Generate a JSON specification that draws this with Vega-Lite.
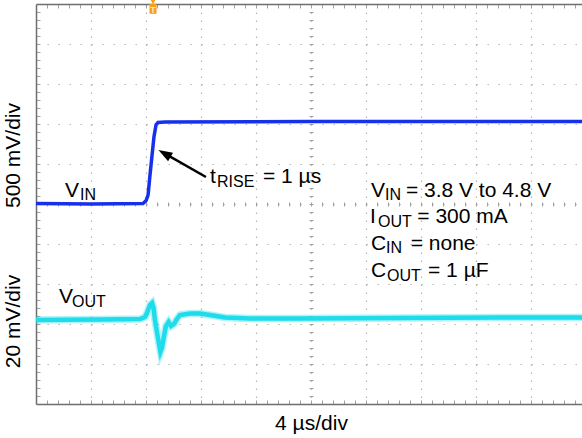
{
  "$schema": "https://vega.github.io/schema/vega-lite/v6.json",
  "width": 546,
  "height": 400,
  "autosize": {"type": "none"},
  "padding": {"left": 36, "top": 4, "right": 0, "bottom": 34},
  "background": "white",
  "config": {
    "view": {"stroke": null},
    "axis": {
      "titleFont": "Liberation Sans",
      "titleFontSize": 21,
      "titleFontWeight": "normal",
      "titleColor": "#000000",
      "gridColor": "#b4b4b4",
      "gridWidth": 1.2,
      "tickColor": "#a0a0a0",
      "tickWidth": 1,
      "domainColor": "#6e6e6e",
      "domainWidth": 1.5,
      "labels": false
    },
    "text": {"font": "Liberation Sans", "color": "#000000", "align": "left", "baseline": "alphabetic"}
  },
  "datasets": {
    "vin": [
      {"time": 0, "volt": 3.805},
      {"time": 4, "volt": 3.8},
      {"time": 7.78, "volt": 3.805},
      {"time": 8.0, "volt": 3.84},
      {"time": 8.15, "volt": 3.91},
      {"time": 8.29, "volt": 4.16},
      {"time": 8.44, "volt": 4.41},
      {"time": 8.58, "volt": 4.64},
      {"time": 8.73, "volt": 4.79},
      {"time": 8.87, "volt": 4.82},
      {"time": 9.38, "volt": 4.825},
      {"time": 20, "volt": 4.83},
      {"time": 39.71, "volt": 4.83}
    ],
    "vout": [
      {"time": 0, "mv": -0.5},
      {"time": 4.65, "mv": -0.25},
      {"time": 7.56, "mv": 0},
      {"time": 7.93, "mv": 1.0},
      {"time": 8.07, "mv": 3.0},
      {"time": 8.29, "mv": 7.0},
      {"time": 8.44, "mv": 8.0},
      {"time": 8.55, "mv": 5.5},
      {"time": 8.65, "mv": -0.5},
      {"time": 8.87, "mv": -9.5},
      {"time": 9.05, "mv": -16.5},
      {"time": 9.16, "mv": -14.5},
      {"time": 9.31, "mv": -8.5},
      {"time": 9.45, "mv": -3.5},
      {"time": 9.64, "mv": -1.5},
      {"time": 9.82, "mv": -3.5},
      {"time": 10.04, "mv": -2.5},
      {"time": 10.25, "mv": 0},
      {"time": 10.47, "mv": 2.0},
      {"time": 11.2, "mv": 2.75},
      {"time": 11.93, "mv": 2.75},
      {"time": 12.65, "mv": 2.0},
      {"time": 13.75, "mv": 0.75},
      {"time": 15.56, "mv": 0.25},
      {"time": 19.2, "mv": 0.25},
      {"time": 26.47, "mv": 0.5},
      {"time": 33.75, "mv": 0.75},
      {"time": 39.71, "mv": 0.75}
    ],
    "notes": [
      {"text": "V", "time": 2.109, "level": 3.8875, "part": "main"},
      {"text": "IN", "time": 3.2, "level": 3.85, "part": "sub"},
      {"text": "t", "time": 12.655, "level": 4.0625, "part": "main"},
      {"text": "RISE", "time": 13.164, "level": 4.0125, "part": "sub"},
      {"text": "= 1 µs", "time": 16.509, "level": 4.0625, "part": "main"},
      {"text": "V", "time": 24.364, "level": 3.8875, "part": "main"},
      {"text": "IN", "time": 25.382, "level": 3.85, "part": "sub"},
      {"text": "= 3.8 V to 4.8 V", "time": 26.9, "level": 3.8875, "part": "main"},
      {"text": "I", "time": 24.291, "level": 3.5625, "part": "main"},
      {"text": "OUT", "time": 24.873, "level": 3.5125, "part": "sub"},
      {"text": "= 300 mA", "time": 27.73, "level": 3.5625, "part": "main"},
      {"text": "C", "time": 24.364, "level": 3.225, "part": "main"},
      {"text": "IN", "time": 25.455, "level": 3.1875, "part": "sub"},
      {"text": "= none", "time": 27.251, "level": 3.225, "part": "main"},
      {"text": "C", "time": 24.364, "level": 2.8875, "part": "main"},
      {"text": "OUT", "time": 25.527, "level": 2.8375, "part": "sub"},
      {"text": "= 1 µF", "time": 28.51, "level": 2.8875, "part": "main"}
    ],
    "voutNotes": [
      {"text": "V", "time": 1.673, "mv": 8, "part": "main"},
      {"text": "OUT", "time": 2.618, "mv": 6, "part": "sub"}
    ],
    "arrow": [
      {"t0": 12.36, "v0": 4.1375, "t1": 9.345, "v1": 4.4325}
    ],
    "trigger": [
      {"time": 8.51, "level": 6.24}
    ]
  },
  "layer": [
    {
      "layer": [
        {
          "data": {"name": "vin"},
          "mark": {"type": "line", "color": "#1630ec", "strokeWidth": 3.5},
          "encoding": {
            "x": {
              "field": "time", "type": "quantitative",
              "scale": {"domain": [0, 39.709], "nice": false, "zero": false},
              "axis": {
                "orient": "bottom", "domain": true, "ticks": true, "tickSize": -4, "grid": false, "title": null,
                "values": [0.8,1.6,2.4,3.2,4,4.8,5.6,6.4,7.2,8,8.8,9.6,10.4,11.2,12,12.8,13.6,14.4,15.2,16,16.8,17.6,18.4,19.2,20,20.8,21.6,22.4,23.2,24,24.8,25.6,26.4,27.2,28,28.8,29.6,30.4,31.2,32,32.8,33.6,34.4,35.2,36,36.8,37.6,38.4,39.2]
              }
            },
            "y": {
              "field": "volt", "type": "quantitative",
              "scale": {"domain": [1.3, 6.3], "nice": false, "zero": false},
              "axis": {
                "orient": "left", "domain": true, "ticks": true, "tickSize": -4, "grid": false,
                "title": "500 mV/div", "titleX": -23, "titleY": 151, "titleAngle": 270,
                "titleAlign": "center", "titleBaseline": "middle",
                "values": [1.4,1.5,1.6,1.7,1.8,1.9,2,2.1,2.2,2.3,2.4,2.5,2.6,2.7,2.8,2.9,3,3.1,3.2,3.3,3.4,3.5,3.6,3.7,3.8,3.9,4,4.1,4.2,4.3,4.4,4.5,4.6,4.7,4.8,4.9,5,5.1,5.2,5.3,5.4,5.5,5.6,5.7,5.8,5.9,6,6.1,6.2]
              }
            }
          }
        },
        {
          "data": {"name": "notes"},
          "transform": [{"filter": "datum.part === 'main'"}],
          "mark": {"type": "text", "fontSize": 21},
          "encoding": {
            "x": {
              "field": "time", "type": "quantitative",
              "scale": {"domain": [0, 39.709], "nice": false, "zero": false},
              "axis": {
                "orient": "bottom", "domain": false, "ticks": false, "grid": true, "gridDash": [1.4, 6.6],
                "values": [4, 8, 12, 16, 20, 24, 28, 32, 36],
                "title": "4 µs/div", "titleX": 275, "titleY": 19, "titleAlign": "center", "titleBaseline": "middle"
              }
            },
            "y": {
              "field": "level", "type": "quantitative",
              "scale": {"domain": [1.3, 6.3], "nice": false, "zero": false},
              "axis": {
                "orient": "left", "domain": false, "ticks": false, "grid": true, "gridDash": [1.4, 9.6],
                "values": [1.8, 2.3, 2.8, 3.3, 3.8, 4.3, 4.8, 5.3, 5.8], "title": null
              }
            },
            "text": {"field": "text"}
          }
        },
        {
          "data": {"name": "notes"},
          "transform": [{"filter": "datum.part === 'sub'"}],
          "mark": {"type": "text", "fontSize": 16},
          "encoding": {
            "x": {
              "field": "time", "type": "quantitative",
              "scale": {"domain": [0, 39.709], "nice": false, "zero": false},
              "axis": {
                "orient": "top", "domain": true, "ticks": true, "tickSize": -4, "grid": false, "title": null,
                "values": [0.8,1.6,2.4,3.2,4,4.8,5.6,6.4,7.2,8,8.8,9.6,10.4,11.2,12,12.8,13.6,14.4,15.2,16,16.8,17.6,18.4,19.2,20,20.8,21.6,22.4,23.2,24,24.8,25.6,26.4,27.2,28,28.8,29.6,30.4,31.2,32,32.8,33.6,34.4,35.2,36,36.8,37.6,38.4,39.2]
              }
            },
            "y": {
              "field": "level", "type": "quantitative",
              "scale": {"domain": [1.3, 6.3], "nice": false, "zero": false},
              "axis": {
                "orient": "left", "offset": -277, "domain": false, "ticks": true, "tickSize": 4, "grid": false, "title": null,
                "values": [1.4,1.5,1.6,1.7,1.8,1.9,2,2.1,2.2,2.3,2.4,2.5,2.6,2.7,2.8,2.9,3,3.1,3.2,3.3,3.4,3.5,3.6,3.7,3.8,3.9,4,4.1,4.2,4.3,4.4,4.5,4.6,4.7,4.8,4.9,5,5.1,5.2,5.3,5.4,5.5,5.6,5.7,5.8,5.9,6,6.1,6.2]
              }
            },
            "text": {"field": "text"}
          }
        },
        {
          "data": {"name": "arrow"},
          "mark": {"type": "rule", "color": "#000000", "strokeWidth": 2.5},
          "encoding": {
            "x": {
              "field": "t0", "type": "quantitative",
              "scale": {"domain": [0, 39.709], "nice": false, "zero": false},
              "axis": {
                "orient": "bottom", "offset": -202, "domain": false, "ticks": true, "tickSize": 4, "grid": false, "title": null,
                "values": [0.8,1.6,2.4,3.2,4,4.8,5.6,6.4,7.2,8,8.8,9.6,10.4,11.2,12,12.8,13.6,14.4,15.2,16,16.8,17.6,18.4,19.2,20,20.8,21.6,22.4,23.2,24,24.8,25.6,26.4,27.2,28,28.8,29.6,30.4,31.2,32,32.8,33.6,34.4,35.2,36,36.8,37.6,38.4,39.2]
              }
            },
            "y": {"field": "v0", "type": "quantitative", "scale": {"domain": [1.3, 6.3], "nice": false, "zero": false}, "axis": null},
            "x2": {"field": "t1"},
            "y2": {"field": "v1"}
          }
        },
        {
          "data": {"name": "arrow"},
          "mark": {"type": "point", "shape": "M0,-1L0.7,1L-0.7,1Z", "size": 196, "angle": 300, "filled": true, "color": "#000000", "opacity": 1},
          "encoding": {
            "x": {"field": "t1", "type": "quantitative", "scale": {"domain": [0, 39.709], "nice": false, "zero": false}, "axis": null},
            "y": {"field": "v1", "type": "quantitative", "scale": {"domain": [1.3, 6.3], "nice": false, "zero": false}, "axis": null}
          }
        },
        {
          "data": {"name": "trigger"},
          "mark": {"type": "point", "shape": "triangle-down", "size": 30, "filled": true, "color": "#f5a01a", "opacity": 1, "yOffset": -7},
          "encoding": {
            "x": {"field": "time", "type": "quantitative", "scale": {"domain": [0, 39.709], "nice": false, "zero": false}, "axis": null},
            "y": {"field": "level", "type": "quantitative", "scale": {"domain": [1.3, 6.3], "nice": false, "zero": false}, "axis": null}
          }
        },
        {
          "data": {"name": "trigger"},
          "mark": {"type": "point", "shape": "M-0.7,-1H0.7V1H-0.7Z", "size": 100, "filled": true, "color": "#f5a01a", "opacity": 1},
          "encoding": {
            "x": {"field": "time", "type": "quantitative", "scale": {"domain": [0, 39.709], "nice": false, "zero": false}, "axis": null},
            "y": {"field": "level", "type": "quantitative", "scale": {"domain": [1.3, 6.3], "nice": false, "zero": false}, "axis": null}
          }
        },
        {
          "data": {"name": "trigger"},
          "mark": {"type": "text", "text": "T", "fontSize": 9, "fontWeight": "bold", "color": "#fde7b8", "align": "center", "baseline": "middle", "dy": 1},
          "encoding": {
            "x": {"field": "time", "type": "quantitative", "scale": {"domain": [0, 39.709], "nice": false, "zero": false}, "axis": null},
            "y": {"field": "level", "type": "quantitative", "scale": {"domain": [1.3, 6.3], "nice": false, "zero": false}, "axis": null}
          }
        }
      ],
      "resolve": {"axis": {"x": "independent", "y": "independent"}}
    },
    {
      "layer": [
        {
          "data": {"name": "vout"},
          "mark": {"type": "line", "color": "#1fdcea", "strokeWidth": 7.5, "opacity": 0.35},
          "encoding": {
            "x": {"field": "time", "type": "quantitative", "scale": {"domain": [0, 39.709], "nice": false, "zero": false}, "axis": null},
            "y": {
              "field": "mv", "type": "quantitative",
              "scale": {"domain": [-42.5, 157.5], "nice": false, "zero": false},
              "axis": {
                "orient": "left", "domain": false, "ticks": false, "grid": false,
                "title": "20 mV/div", "titleX": -23, "titleY": 317, "titleAngle": 270,
                "titleAlign": "center", "titleBaseline": "middle"
              }
            }
          }
        },
        {
          "data": {"name": "vout"},
          "mark": {"type": "line", "color": "#1fdcea", "strokeWidth": 4.5},
          "encoding": {
            "x": {"field": "time", "type": "quantitative", "scale": {"domain": [0, 39.709], "nice": false, "zero": false}, "axis": null},
            "y": {"field": "mv", "type": "quantitative", "scale": {"domain": [-42.5, 157.5], "nice": false, "zero": false}, "axis": null}
          }
        },
        {
          "data": {"name": "voutNotes"},
          "transform": [{"filter": "datum.part === 'main'"}],
          "mark": {"type": "text", "fontSize": 21},
          "encoding": {
            "x": {"field": "time", "type": "quantitative", "scale": {"domain": [0, 39.709], "nice": false, "zero": false}, "axis": null},
            "y": {"field": "mv", "type": "quantitative", "scale": {"domain": [-42.5, 157.5], "nice": false, "zero": false}, "axis": null},
            "text": {"field": "text"}
          }
        },
        {
          "data": {"name": "voutNotes"},
          "transform": [{"filter": "datum.part === 'sub'"}],
          "mark": {"type": "text", "fontSize": 16},
          "encoding": {
            "x": {"field": "time", "type": "quantitative", "scale": {"domain": [0, 39.709], "nice": false, "zero": false}, "axis": null},
            "y": {"field": "mv", "type": "quantitative", "scale": {"domain": [-42.5, 157.5], "nice": false, "zero": false}, "axis": null},
            "text": {"field": "text"}
          }
        }
      ],
      "resolve": {"axis": {"x": "independent", "y": "independent"}}
    }
  ],
  "resolve": {"scale": {"y": "independent"}, "axis": {"x": "independent", "y": "independent"}}
}
